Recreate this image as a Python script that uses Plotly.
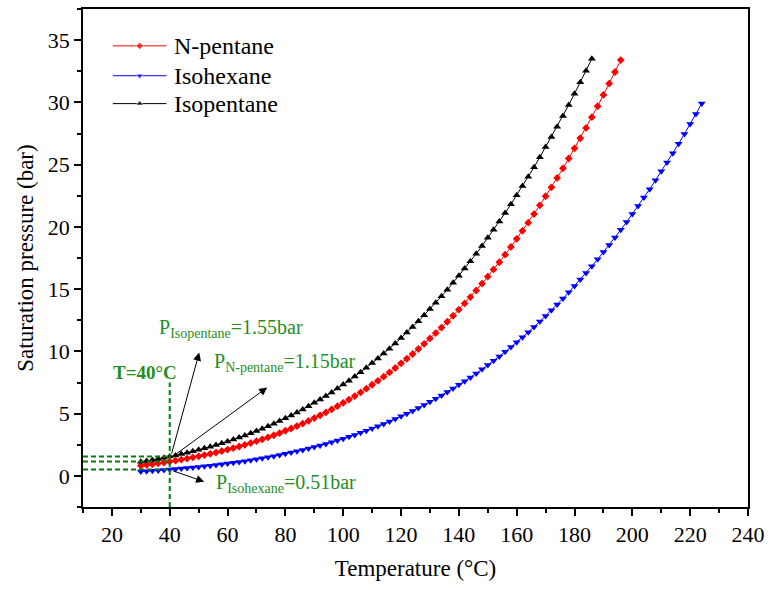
import plotly.graph_objects as go

# Temperature grid (°C) shared by the three series
temps = [30, 32, 34, 36, 38, 40, 42, 44, 46, 48, 50, 52, 54, 56, 58, 60, 62, 64, 66, 68,
         70, 72, 74, 76, 78, 80, 82, 84, 86, 88, 90, 92, 94, 96, 98, 100, 102, 104, 106, 108,
         110, 112, 114, 116, 118, 120, 122, 124, 126, 128, 130, 132, 134, 136, 138, 140,
         142, 144, 146, 148, 150, 152, 154, 156, 158, 160, 162, 164, 166, 168, 170, 172,
         174, 176, 178, 180, 182, 184, 186, 188, 190, 192, 194, 196, 198, 200, 202, 204,
         206, 208, 210, 212, 214, 216, 218, 220, 222, 224]

# Saturation pressure (bar)
p_npentane = [0.823, 0.880, 0.941, 1.006, 1.076, 1.150, 1.224, 1.304, 1.388, 1.478, 1.573,
              1.669, 1.770, 1.878, 1.992, 2.113, 2.233, 2.361, 2.495, 2.638, 2.788, 2.938,
              3.096, 3.263, 3.438, 3.623, 3.807, 4.000, 4.203, 4.416, 4.640, 4.862, 5.096,
              5.340, 5.596, 5.864, 6.130, 6.408, 6.699, 7.003, 7.321, 7.636, 7.965, 8.307,
              8.665, 9.037, 9.406, 9.791, 10.19, 10.61, 11.04, 11.47, 11.91, 12.38, 12.86,
              13.36, 13.85, 14.36, 14.89, 15.44, 16.01, 16.58, 17.16, 17.77, 18.39, 19.04,
              19.68, 20.34, 21.03, 21.73, 22.46, 23.18, 23.93, 24.70, 25.49, 26.31, 27.12,
              27.95, 28.81, 29.69, 30.60, 31.51, 32.44, 33.40]

p_isohexane = [0.355, 0.381, 0.410, 0.441, 0.474, 0.510, 0.546, 0.584, 0.626, 0.670, 0.717,
               0.764, 0.815, 0.869, 0.926, 0.987, 1.048, 1.114, 1.183, 1.256, 1.334, 1.412,
               1.495, 1.582, 1.675, 1.773, 1.871, 1.974, 2.083, 2.198, 2.319, 2.440, 2.567,
               2.701, 2.842, 2.990, 3.138, 3.293, 3.455, 3.626, 3.805, 3.983, 4.170, 4.365,
               4.569, 4.783, 4.995, 5.217, 5.449, 5.691, 5.944, 6.195, 6.457, 6.729, 7.014,
               7.310, 7.604, 7.909, 8.227, 8.558, 8.901, 9.242, 9.596, 9.963, 10.35, 10.74,
               11.13, 11.54, 11.96, 12.40, 12.85, 13.30, 13.77, 14.25, 14.74, 15.26, 15.77,
               16.29, 16.84, 17.40, 17.98, 18.55, 19.15, 19.76, 20.39, 21.04, 21.68, 22.35,
               23.03, 23.74, 24.46, 25.18, 25.92, 26.68, 27.46, 28.27, 29.07, 29.90]

p_isopentane = [1.127, 1.201, 1.280, 1.364, 1.454, 1.550, 1.646, 1.747, 1.855, 1.969, 2.090,
                2.211, 2.339, 2.474, 2.617, 2.769, 2.919, 3.078, 3.245, 3.422, 3.608, 3.793,
                3.987, 4.192, 4.406, 4.632, 4.856, 5.090, 5.336, 5.594, 5.865, 6.133, 6.413,
                6.706, 7.012, 7.333, 7.650, 7.981, 8.326, 8.686, 9.062, 9.433, 9.820, 10.22,
                10.64, 11.08, 11.51, 11.96, 12.42, 12.91, 13.41, 13.90, 14.42, 14.95, 15.51,
                16.08, 16.65, 17.23, 17.84, 18.47, 19.12, 19.76, 20.43, 21.11, 21.82, 22.55,
                23.28, 24.02, 24.79, 25.59, 26.41, 27.21, 28.05, 28.90, 29.79, 30.70, 31.61,
                32.54, 33.50]

series_names = ["N-pentane", "Isohexane", "Isopentane"]
series_colors = ["#ff0000", "#0000ff", "#000000"]
series_symbols = ["diamond", "triangle-down", "triangle-up"]
series_sizes = [6, 7, 7]
series_values = [p_npentane, p_isohexane, p_isopentane]

# Values at T = 40 °C
t_ref = 40
p_ref_isopentane = 1.55
p_ref_npentane = 1.15
p_ref_isohexane = 0.51

FONT = "Liberation Serif"
GREEN = "#1f8f1f"
DGREEN = "#0a7a0a"

fig = go.Figure()
for name, vals, col, sym, sz in zip(series_names, series_values, series_colors,
                                    series_symbols, series_sizes):
    fig.add_trace(go.Scatter(x=temps[:len(vals)], y=vals, name=name,
                             mode="lines+markers", line=dict(color=col, width=1),
                             marker=dict(symbol=sym, size=sz, color=col),
                             showlegend=False))

# hand-made legend on an overlay axis measured in pixels of the plot area
leg_rows = [37, 67, 95]
for name, col, sym, sz, yrow in zip(series_names, series_colors, series_symbols,
                                    series_sizes, leg_rows):
    fig.add_trace(go.Scatter(x=[30, 57, 84], y=[yrow] * 3, mode="lines+markers",
                             xaxis="x2", yaxis="y2", showlegend=False, hoverinfo="skip",
                             line=dict(color=col, width=1),
                             marker=dict(symbol=sym, size=[0, sz, 0], color=col)))
    fig.add_annotation(x=90, y=yrow, xref="x2", yref="y2", text=name, showarrow=False,
                       xanchor="left", yanchor="middle",
                       font=dict(family=FONT, size=24, color="black"))

# dashed guide lines
dash = "5px,3px"
fig.add_shape(type="line", xref="x", yref="y", x0=t_ref, x1=t_ref, y0=-2.5, y1=7.5,
              line=dict(color=DGREEN, width=2, dash=dash))
for p in (p_ref_isopentane, p_ref_npentane, p_ref_isohexane):
    fig.add_shape(type="line", xref="x", yref="y", x0=10, x1=t_ref, y0=p, y1=p,
                  line=dict(color=DGREEN, width=2, dash=dash))

# arrows
arrows = [((50.2, 9.9), (40.5, 1.66)),
          ((73.7, 7.1), (41.0, 1.55)),
          ((51.9, -0.47), (40.5, 0.46))]
for (hx, hy), (tx, ty) in arrows:
    fig.add_annotation(x=hx, y=hy, ax=tx, ay=ty, xref="x", yref="y", axref="x", ayref="y",
                       text="", showarrow=True, arrowhead=2, arrowsize=1.6, arrowwidth=1,
                       arrowcolor="black")

labels = [("P<sub>Isopentane</sub>=1.55bar", 35.6, 11.8),
          ("P<sub>N-pentane</sub>=1.15bar", 54.5, 9.1),
          ("P<sub>Isohexane</sub>=0.51bar", 55.2, -0.6)]
for txt, x, y in labels:
    fig.add_annotation(x=x, y=y, xref="x", yref="y", text=txt, showarrow=False,
                       xanchor="left", yanchor="middle",
                       font=dict(family=FONT, size=20, color=GREEN))
fig.add_annotation(x=31.3, y=8.3, xref="x", yref="y", text="<b>T=40°C</b>", showarrow=False,
                   xanchor="center", yanchor="middle",
                   font=dict(family=FONT, size=19, color=GREEN))

axis_common = dict(showline=True, linecolor="black", linewidth=1.5, mirror=True,
                   ticks="outside", ticklen=7, tickwidth=1.5, tickcolor="black",
                   showgrid=False, zeroline=False,
                   tickfont=dict(family=FONT, size=22, color="black"))

xaxis = dict(range=[10, 240], dtick=20, tick0=0,
             minor=dict(dtick=10, tick0=0, ticks="outside", ticklen=4, tickcolor="black"),
             title=dict(text="Temperature (°C)", font=dict(family=FONT, size=23, color="black"),
                        standoff=14),
             **axis_common)
yaxis = dict(range=[-2.5, 37.5], dtick=5, tick0=0,
             minor=dict(dtick=2.5, tick0=0, ticks="outside", ticklen=4, tickcolor="black"),
             title=dict(text="Saturation pressure (bar)",
                        font=dict(family=FONT, size=23, color="black"), standoff=8),
             **axis_common)

fig.update_layout(
    width=772, height=590,
    margin=dict(l=83, r=20, t=7, b=83),
    paper_bgcolor="white", plot_bgcolor="white",
    font=dict(family=FONT, color="black"),
    showlegend=False,
    xaxis=xaxis, yaxis=yaxis,
    xaxis2=dict(overlaying="x", range=[0, 669], visible=False, fixedrange=True),
    yaxis2=dict(overlaying="y", range=[500, 0], visible=False, fixedrange=True),
)

fig.write_html("out.html")
